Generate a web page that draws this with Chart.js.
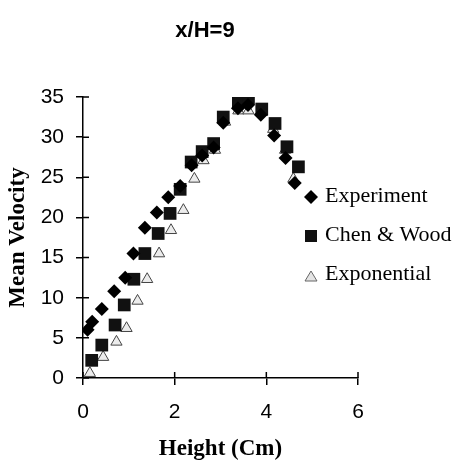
<!DOCTYPE html>
<html>
<head>
<meta charset="utf-8">
<title>x/H=9</title>
<script src="https://cdn.jsdelivr.net/npm/chart.js@4/dist/chart.umd.min.js"></script>
<style>
  html, body { margin: 0; padding: 0; background: #fff; }
  #chart { display: block; }
</style>
</head>
<body>
<canvas id="chart" width="461" height="462"></canvas>
<script>
// values
const chartTitle = 'x/H=9';
const seriesNames = ['Experiment', 'Chen & Wood', 'Exponential'];

const experimentX = [0.1, 0.2, 0.41, 0.68, 0.92, 1.1, 1.35, 1.61, 1.86, 2.12, 2.37, 2.6, 2.85, 3.06, 3.38, 3.6, 3.88, 4.17, 4.42, 4.62];
const experimentY = [6.0, 7.0, 8.6, 10.8, 12.5, 15.5, 18.7, 20.6, 22.5, 23.9, 26.5, 27.7, 28.7, 31.8, 33.6, 34.0, 32.8, 30.2, 27.4, 24.3];

const chenX = [0.19, 0.41, 0.7, 0.9, 1.11, 1.35, 1.64, 1.9, 2.12, 2.36, 2.6, 2.85, 3.06, 3.39, 3.61, 3.9, 4.19, 4.45, 4.7];
const chenY = [2.2, 4.1, 6.6, 9.1, 12.3, 15.5, 18.0, 20.5, 23.5, 26.9, 28.2, 29.2, 32.5, 34.4, 34.8, 33.5, 31.7, 28.8, 26.3];

const expX = [0.15, 0.44, 0.73, 0.95, 1.19, 1.4, 1.66, 1.92, 2.19, 2.43, 2.63, 2.88, 3.1, 3.39, 3.61, 3.9, 4.15, 4.41, 4.59];
const expY = [0.6, 2.6, 4.5, 6.2, 9.6, 12.3, 15.5, 18.4, 20.9, 24.8, 27.1, 28.4, 31.9, 33.3, 33.3, 33.1, 31.0, 28.4, 24.8];

const xTicks = [0, 2, 4, 6];
const yTicks = [0, 5, 10, 15, 20, 25, 30, 35];

const toPoints = (xs, ys) => xs.map((x, i) => ({ x: x, y: ys[i] }));

const tickFont = { family: '"Liberation Sans", Arial, sans-serif', size: 21 };
const titleFont = { family: '"Liberation Serif", "Times New Roman", serif', size: 23, weight: 'bold', lineHeight: 1 };

// ticks that cross the axis line, plus title and legend
const extrasPlugin = {
    id: 'extras',
    afterDraw(chart) {
        const ctx = chart.ctx;
        const xs = chart.scales.x;
        const ys = chart.scales.y;
        const area = chart.chartArea;
        ctx.save();
        ctx.strokeStyle = '#000';
        ctx.lineWidth = 1.5;
        ctx.beginPath();
        yTicks.forEach(v => {
            const py = ys.getPixelForValue(v);
            ctx.moveTo(area.left, py);
            ctx.lineTo(area.left + 6, py);
        });
        xTicks.forEach(v => {
            const px = xs.getPixelForValue(v);
            ctx.moveTo(px, area.bottom);
            ctx.lineTo(px, area.bottom - 6);
        });
        ctx.stroke();

        // title
        ctx.fillStyle = '#000';
        ctx.font = 'bold 22px "Liberation Sans", Arial, sans-serif';
        ctx.textAlign = 'center';
        ctx.textBaseline = 'middle';
        ctx.fillText(chartTitle, 205, 31);

        // legend
        const rows = [202, 241, 280];
        ctx.font = '22px "Liberation Serif", "Times New Roman", serif';
        ctx.textAlign = 'left';
        ctx.textBaseline = 'alphabetic';
        seriesNames.forEach((name, i) => {
            const mx = 311, my = rows[i] - 5;
            ctx.beginPath();
            if (i === 0) {
                ctx.moveTo(mx - 7, my); ctx.lineTo(mx, my - 7);
                ctx.lineTo(mx + 7, my); ctx.lineTo(mx, my + 7);
                ctx.closePath();
                ctx.fillStyle = '#000';
                ctx.fill();
            } else if (i === 1) {
                ctx.rect(mx - 6, my - 6, 12, 12);
                ctx.fillStyle = '#111';
                ctx.fill();
            } else {
                ctx.moveTo(mx, my - 4); ctx.lineTo(mx + 6, my + 6); ctx.lineTo(mx - 6, my + 6);
                ctx.closePath();
                ctx.fillStyle = '#e4e4e4';
                ctx.fill();
                ctx.lineWidth = 1;
                ctx.strokeStyle = '#666';
                ctx.stroke();
            }
            ctx.fillStyle = '#000';
            ctx.fillText(name, 325, rows[i]);
        });
        ctx.restore();
    }
};

new Chart(document.getElementById('chart'), {
    type: 'scatter',
    data: {
        datasets: [
            {
                label: seriesNames[0],
                data: toPoints(experimentX, experimentY),
                pointStyle: 'rectRot',
                pointRadius: 7,
                backgroundColor: '#000',
                borderColor: '#000',
                borderWidth: 0
            },
            {
                label: seriesNames[1],
                data: toPoints(chenX, chenY),
                pointStyle: 'rect',
                pointRadius: 9,
                backgroundColor: '#111',
                borderColor: '#111',
                borderWidth: 0
            },
            {
                label: seriesNames[2],
                data: toPoints(expX, expY),
                pointStyle: 'triangle',
                pointRadius: 6.5,
                backgroundColor: '#ececec',
                borderColor: '#444',
                borderWidth: 1
            }
        ]
    },
    options: {
        responsive: false,
        animation: false,
        layout: { padding: { top: 97, right: 103, left: 0, bottom: 0 } },
        plugins: {
            legend: { display: false },
            title: { display: false },
            tooltip: { enabled: false }
        },
        scales: {
            x: {
                type: 'linear',
                min: 0,
                max: 6,
                afterFit: scale => { scale.height = 84; },
                afterBuildTicks: scale => { scale.ticks = xTicks.map(v => ({ value: v })); },
                border: { color: '#000', width: 1.5 },
                grid: { drawOnChartArea: false, color: '#000', lineWidth: 1.5, tickLength: 7 },
                ticks: { color: '#000', font: tickFont, padding: 15 },
                title: {
                    display: true,
                    text: 'Height (Cm)',
                    color: '#000',
                    font: titleFont,
                    padding: { top: 0, bottom: 1 }
                }
            },
            y: {
                type: 'linear',
                min: 0,
                max: 35,
                afterFit: scale => { scale.width = 83; },
                afterBuildTicks: scale => { scale.ticks = yTicks.map(v => ({ value: v })); },
                border: { color: '#000', width: 1.5 },
                grid: { drawOnChartArea: false, color: '#000', lineWidth: 1.5, tickLength: 7 },
                ticks: { color: '#000', font: tickFont, padding: 12 },
                title: {
                    display: true,
                    text: 'Mean Velocity',
                    color: '#000',
                    font: titleFont,
                    padding: { top: 7, bottom: 0 }
                }
            }
        }
    },
    plugins: [extrasPlugin]
});
</script>
</body>
</html>
